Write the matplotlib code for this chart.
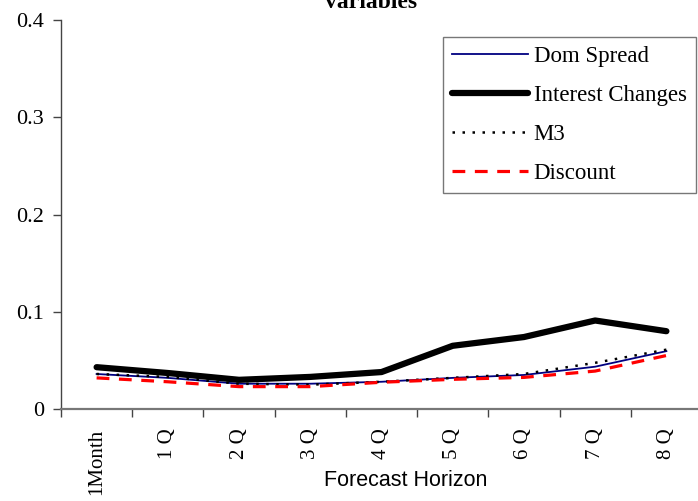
import matplotlib.pyplot as plt

horizons = ['1Month', '1 Q', '2 Q', '3 Q', '4 Q', '5 Q', '6 Q', '7 Q', '8 Q']
dom_spread = [0.036, 0.032, 0.026, 0.026, 0.028, 0.032, 0.035, 0.0435, 0.0595]
interest = [0.043, 0.037, 0.030, 0.033, 0.038, 0.065, 0.074, 0.091, 0.080]
m3 = [0.036, 0.033, 0.026, 0.025, 0.028, 0.032, 0.036, 0.0475, 0.061]
discount = [0.032, 0.028, 0.023, 0.023, 0.0275, 0.0305, 0.0325, 0.039, 0.055]

serif = 'Liberation Serif'
sans = 'Liberation Sans'

fig = plt.figure(figsize=(6.98, 5.01), dpi=100)
ax = fig.add_axes([61/698, 1-409/501, 641/698, 389/501])

x = list(range(len(horizons)))
ax.plot(x, dom_spread, color='#000080', lw=1.3, label='Dom Spread')
ax.plot(x, interest, color='black', lw=4.5, label='Interest Changes', solid_capstyle='round')
ax.plot(x, m3, color='black', lw=1.8, ls=(0, (1.0, 3.0)), label='M3')
ax.plot(x, discount, color='#ff0000', lw=2.3, ls=(0, (4, 3)), label='Discount')

ax.set_xlim(-0.5, len(horizons) - 0.5)
ax.set_ylim(0, 0.4)
ax.set_yticks([0, 0.1, 0.2, 0.3, 0.4])
ax.set_yticklabels(['0', '0.1', '0.2', '0.3', '0.4'], fontfamily=serif, fontsize=16)
ax.set_xticks(x)
ax.set_xticklabels(horizons, rotation=90, fontfamily=serif, fontsize=15, va='top')
ax.set_xticks([i - 0.5 for i in range(len(horizons) + 1)], minor=True)
ax.tick_params(axis='x', which='major', length=0, pad=14)
ax.tick_params(axis='x', which='minor', length=6, color='#444444', width=1)
ax.tick_params(axis='y', length=6, color='#444444', width=1, pad=6)
for s in ['top', 'right']:
    ax.spines[s].set_visible(False)
ax.spines['left'].set_color('#444444')
ax.spines['left'].set_linewidth(1.0)
ax.spines['bottom'].set_color('#777777')
ax.spines['bottom'].set_linewidth(1.6)

ax.set_xlabel('Forecast Horizon', fontfamily=sans, fontsize=15.5, va='center')
ax.xaxis.set_label_coords(0.537, -0.185)

leg = ax.legend(loc='upper left', bbox_to_anchor=(0.596, 0.956),
                prop={'family': serif, 'size': 16.5}, handlelength=3.3,
                frameon=True, fancybox=False, edgecolor='#555555',
                borderpad=0.4, labelspacing=0.78, handletextpad=0.25,
                borderaxespad=0)
leg.get_frame().set_linewidth(1.0)

fig.text(371/698, 1-8/501, 'variables', ha='center', va='baseline',
         fontfamily=serif, fontsize=17, fontweight='bold')

fig.savefig('out.png', dpi=100)
